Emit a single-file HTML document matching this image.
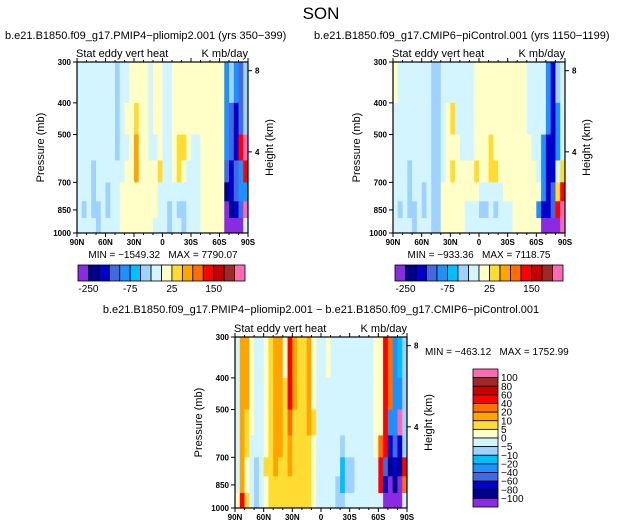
<!DOCTYPE html>
<html><head><meta charset="utf-8"><style>
html,body{margin:0;padding:0;background:#fff;}
svg{display:block;font-family:"Liberation Sans",sans-serif;}
text{white-space:pre;}
</style></head><body>
<svg id="root" width="643" height="528" viewBox="0 0 643 528" xmlns="http://www.w3.org/2000/svg">
<text x="321" y="19" font-size="17" text-anchor="middle">SON</text>
<text x="5" y="39" font-size="11">b.e21.B1850.f09_g17.PMIP4−pliomip2.001 (yrs 350−399)</text>
<text x="314" y="39" font-size="11">b.e21.B1850.f09_g17.CMIP6−piControl.001 (yrs 1150−1199)</text>
<text x="321" y="313" font-size="11" text-anchor="middle">b.e21.B1850.f09_g17.PMIP4−pliomip2.001 − b.e21.B1850.f09_g17.CMIP6−piControl.001</text>
<g id="plots"></g>
</svg>
<script>
// ---- data ----
const colors = ["#8a2be2","#00008b","#0000cd","#4169e1","#1e90ff","#00bfff","#a0d2ff","#d2f5ff","#ffffc8","#ffdc32","#ffa500","#ff6e00","#ff0000","#c80000","#a02828","#ff69b4"];
const latEdges = []; for (let i=0;i<=36;i++) latEdges.push(90-5*i);
const presEdges = [300,400,500,600,700,800,900,1000];
const pressureTicks = [300,400,500,700,850,1000];
const heightTicks = [4,8];
const latTicks = [90,60,30,0,-30,-60,-90];
const latTickLabels = ["90N","60N","30N","0","30S","60S","90S"];
const fullBarLabels = ["-250","-75","25","150"];
const fullBarLabelPos = [1,5,9,13];
const diffBarLabels = ["100","80","60","40","20","10","5","0","−5","−10","−20","−40","−60","−80","−100"];
// contour level index per 5-degree band (90N..90S), rows 300..1000 mb
const gridPlio = [
"777777 776778 888788 778888 888888 846436",
"777777 776788 988788 778888 888888 843236",
"777777 776778 a88778 778998 778888 8432cf",
"777677 777788 a88889 778987 778888 83234c",
"777677 677888 888887 777777 778888 812344",
"767667 677888 888887 767667 778888 80123f",
"777767 777888 888877 767767 778888 800007"
];
const gridCtrl = [
"877777 776677 777778 888888 888877 774267",
"777777 776678 977778 888888 888877 774247",
"777777 776678 887778 889888 888887 742247",
"777677 776678 988889 889988 888888 742279",
"777677 676688 888888 777778 888888 84239c",
"767667 676688 888777 667677 788888 4223cf",
"777767 776688 888777 777777 788888 80000f"
];
const gridDiff = [
"7aa877 89aa8c a99a87 787777 777778 8cb456",
"7aa877 89aa9c a99a87 777777 777778 8cb446",
"7a9877 89aa9b 999a97 777777 777778 8c44f6",
"7a9777 89aa9a 999987 777767 777778 bc2326",
"7a8767 99a99a 999987 777756 677777 c3121c",
"7a8767 899999 999987 777656 677777 c2010b",
"8c9767 899999 999987 777667 777777 700007"
];
const minmax = ["MIN = −1549.32   MAX = 7790.07","MIN = −933.36   MAX = 7118.75","MIN = −463.12   MAX = 1752.99"];

// ---- drawing ----
const NS="http://www.w3.org/2000/svg";
const root=document.getElementById("plots");
function el(tag,attrs,parent){const e=document.createElementNS(NS,tag);for(const k in attrs)e.setAttribute(k,attrs[k]);(parent||root).appendChild(e);return e;}
function txt(s,attrs,parent){const e=el("text",attrs,parent);e.textContent=s;return e;}

function panel(id,x0,y0,w,h,grid){
  const g=el("g",{});
  
  
  const xs=lat=>x0+(90-lat)/180*w;
  const ys=p=>y0+Math.log(p/300)/Math.log(1000/300)*h;
  for(let r=0;r<grid.length;r++){
    const row=grid[r].replace(/ /g,"");
    for(let c=0;c<36;c++){
      const v=parseInt(row[c]||"7",16);
      const rc=el("rect",{x:xs(latEdges[c]),y:ys(presEdges[r]),width:xs(latEdges[c+1])-xs(latEdges[c])+0.4,height:ys(presEdges[r+1])-ys(presEdges[r])+0.4,fill:colors[v]},g);
      
      
    }
  }
  const fr=el("rect",{x:x0,y:y0,width:w,height:h,fill:"none",stroke:"#000","stroke-width":1.2},g);
  
  
  for(let l=90;l>=-90;l-=10){
    const big=l%30===0;
    el("line",{x1:xs(l),x2:xs(l),y1:y0+h,y2:y0+h+(big?4:2),stroke:"#000"},g);
    el("line",{x1:xs(l),x2:xs(l),y1:y0,y2:y0-(big?4:2),stroke:"#000"},g);
  }
  latTicks.forEach((l,i)=>{const t=txt(latTickLabels[i],{x:xs(l),y:y0+h+12,"font-size":8,"text-anchor":"middle","font-weight":"bold"},g);
    });
  pressureTicks.forEach(p=>{el("line",{x1:x0-4,x2:x0,y1:ys(p),y2:ys(p),stroke:"#000"},g);
    const t=txt(String(p),{x:x0-6,y:ys(p)+3,"font-size":8,"text-anchor":"end","font-weight":"bold"},g);
    });
  heightTicks.forEach(km=>{const p=1000*Math.exp(-km/7);el("line",{x1:x0+w,x2:x0+w+4,y1:ys(p),y2:ys(p),stroke:"#000"},g);
    const t=txt(String(km),{x:x0+w+7,y:ys(p)+3,"font-size":8,"font-weight":"bold"},g);
    });
  const yl=txt("Pressure (mb)",{x:0,y:0,"font-size":11,"text-anchor":"middle",transform:`translate(${x0-33},${y0+h/2}) rotate(-90)`},g);
  
  const hl=txt("Height (km)",{x:0,y:0,"font-size":11,"text-anchor":"middle",transform:`translate(${x0+w+25},${y0+h/2}) rotate(-90)`},g);
  
  const st=txt("Stat eddy vert heat",{x:x0-1,y:y0-5,"font-size":11},g);
  
  const un=txt("K mb/day",{x:x0+w,y:y0-5,"font-size":11,"text-anchor":"end"},g);
  
}

function hbar(x0,y0,w,h){
  const bw=w/16;
  for(let i=0;i<16;i++){const r=el("rect",{x:x0+i*bw,y:y0,width:bw,height:h,fill:colors[i],stroke:"#000","stroke-width":0.8});
    }
  fullBarLabels.forEach((s,i)=>{const t=txt(s,{x:x0+fullBarLabelPos[i]*bw,y:y0+h+11,"font-size":10,"text-anchor":"middle"});
    });
}
function vbar(x0,y0,w,h){
  const bh=h/16;
  for(let i=0;i<16;i++){const r=el("rect",{x:x0,y:y0+i*bh,width:w,height:bh,fill:colors[15-i],stroke:"#000","stroke-width":0.8});
    }
  diffBarLabels.forEach((s,i)=>{const t=txt(s,{x:x0+w+3,y:y0+(i+1)*bh+3.5,"font-size":10});
    });
}

panel("pliomip",77,62,171,171,gridPlio);
panel("picontrol",393,62,172,171,gridCtrl);
panel("difference",235,337,172,171,gridDiff);
hbar(78,265,167,16);
hbar(395,265,168,16);
vbar(473,369,25,138);
[[163,258,"middle"],[479,258,"middle"],[425,355,"start"]].forEach((p,i)=>{
  const t=txt(minmax[i],{x:p[0],y:p[1],"font-size":10,"text-anchor":p[2]});
  
});
</script>
</body></html>
